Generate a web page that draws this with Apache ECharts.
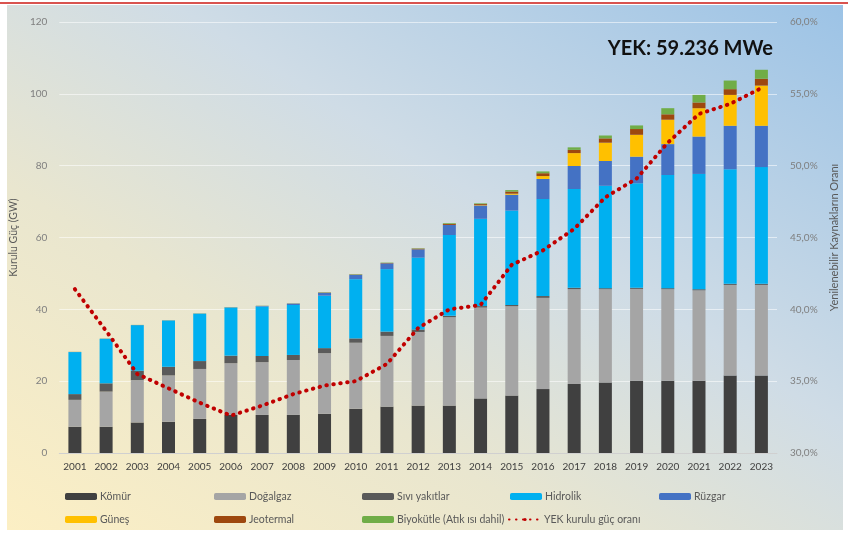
<!DOCTYPE html>
<html>
<head>
<meta charset="utf-8">
<script src="https://cdn.jsdelivr.net/npm/echarts@6/dist/echarts.min.js"></script>
<style>
  html, body { margin: 0; padding: 0; background: #fff; }
  #wrap { position: relative; width: 848px; height: 534px; overflow: hidden; }
  #redline { position: absolute; left: 0; top: 2px; width: 848px; height: 2px; background: #d9534f; }
  #panel {
    position: absolute; left: 7px; top: 5px; width: 836px; height: 525px;
    background: linear-gradient(to top right, #fcefc4 0%, #e9e6cf 33%, #cfdce6 60%, #9cc3e6 100%);
  }
  #chart { position: absolute; left: 0; top: 0; width: 848px; height: 534px; }
</style>
</head>
<body>
<div id="wrap">
  <div id="redline"></div>
  <div id="panel"></div>
  <div id="chart"></div>
</div>
<script>
// veriler
const years = ["2001","2002","2003","2004","2005","2006","2007","2008","2009","2010","2011","2012",
  "2013","2014","2015","2016","2017","2018","2019","2020","2021","2022","2023"];
const komur = [7.3,7.3,8.5,8.7,9.5,10.6,10.6,10.6,10.9,12.3,12.9,13.2,13.2,15.2,16.0,17.8,19.2,19.6,20.1,20.1,20.1,21.6,21.6];
const dogalgaz = [7.5,9.8,11.8,12.9,13.9,14.4,14.7,15.3,16.9,18.4,19.7,20.5,24.6,25.3,24.9,25.4,26.4,26.0,25.6,25.5,25.2,25.2,25.2];
const sivi = [1.6,2.3,2.6,2.4,2.2,2.1,1.7,1.4,1.4,1.2,1.2,0.7,0.4,0.4,0.3,0.5,0.4,0.3,0.3,0.3,0.3,0.3,0.3];
const hidrolik = [11.7,12.4,12.7,12.9,13.2,13.4,13.8,13.9,14.6,16.5,17.4,20.0,22.5,24.3,26.3,27.0,27.5,28.5,29.1,31.5,32.1,31.9,32.5];
const ruzgar = [0.02,0.02,0.02,0.02,0.02,0.06,0.15,0.4,0.8,1.2,1.6,2.3,2.8,3.7,4.4,5.6,6.4,6.9,7.4,8.6,10.4,12.1,11.5];
const gunes = [0,0,0,0,0,0,0,0,0,0,0,0,0,0.1,0.3,0.8,3.6,5.1,6.1,6.8,7.9,8.6,11.2];
const jeotermal = [0.02,0.02,0.02,0.02,0.02,0.02,0.02,0.03,0.08,0.09,0.11,0.2,0.3,0.3,0.6,0.8,0.9,1.2,1.6,1.5,1.6,1.6,1.9];
const biyokutle = [0.03,0.03,0.03,0.03,0.04,0.04,0.04,0.05,0.08,0.1,0.1,0.1,0.2,0.2,0.4,0.5,0.7,0.8,1.0,1.7,2.1,2.4,2.5];
const yekOrani = [41.4,38.5,35.5,34.5,33.5,32.6,33.3,34.1,34.7,35.0,36.2,38.7,40.0,40.3,43.1,44.1,45.6,47.8,49.1,51.6,53.6,54.3,55.4];

const leftTicks = { min: 0, max: 120, interval: 20 };
const rightTicks = { min: 30, max: 60, interval: 5 };

const font = "Lato, 'Open Sans', sans-serif";
const labelColor = "#595959";

const barSeries = [
  ["Kömür", komur, "#404040"],
  ["Doğalgaz", dogalgaz, "#a5a5a5"],
  ["Sıvı yakıtlar", sivi, "#5a5a5a"],
  ["Hidrolik", hidrolik, "#00b0f0"],
  ["Rüzgar", ruzgar, "#4472c4"],
  ["Güneş", gunes, "#ffc000"],
  ["Jeotermal", jeotermal, "#9e480e"],
  ["Biyokütle (Atık ısı dahil)", biyokutle, "#70ad47"]
];

// legend: one per item so columns line up
const legendPos = [
  [60, 486], [209, 486], [357, 486], [505, 486], [654, 486],
  [60, 509], [209, 509], [357, 509], [503, 509]
];
const legendNames = barSeries.map(s => s[0]).concat(["YEK kurulu güç oranı"]);
const legends = legendNames.map((name, i) => ({
  data: [name],
  left: legendPos[i][0],
  top: legendPos[i][1],
  itemWidth: 32,
  itemHeight: i < 8 ? 7 : 4,
  itemGap: 4,
  textStyle: { color: labelColor, fontSize: 10.5, fontFamily: font, padding: [0, 0, 0, -2] },
  selectedMode: false
}));

const chart = echarts.init(document.getElementById("chart"));
chart.setOption({
  backgroundColor: "transparent",
  animation: false,
  textStyle: { fontFamily: font },
  title: {
    text: "YEK: 59.236 MWe",
    right: 70,
    top: 34,
    textStyle: { fontSize: 20, fontWeight: "bold", color: "#111", fontFamily: font }
  },
  legend: legends,
  grid: { left: 57, right: 64, top: 22, bottom: 81 },
  xAxis: {
    type: "category",
    data: years,
    axisLine: { lineStyle: { color: "#d0d0d0" } },
    axisTick: { show: false },
    axisLabel: { color: "#404040", fontSize: 10, margin: 9, interval: 0, fontFamily: font }
  },
  yAxis: [
    {
      type: "value",
      min: leftTicks.min, max: leftTicks.max, interval: leftTicks.interval,
      name: "Kurulu Güç (GW)",
      nameLocation: "middle",
      nameGap: 39,
      nameRotate: 90,
      nameTextStyle: { color: labelColor, fontSize: 10.5, fontFamily: font },
      axisLabel: { color: "#7f7f7f", fontSize: 10, margin: 12, fontFamily: font },
      axisLine: { show: false },
      axisTick: { show: false },
      splitLine: { lineStyle: { color: "rgba(255,255,255,0.55)", width: 1 } }
    },
    {
      type: "value",
      position: "right",
      min: rightTicks.min, max: rightTicks.max, interval: rightTicks.interval,
      name: "Yenilenebilir Kaynakların Oranı",
      nameLocation: "middle",
      nameGap: 52,
      nameRotate: 90,
      nameTextStyle: { color: labelColor, fontSize: 11, fontFamily: font },
      axisLabel: {
        color: "#7f7f7f", fontSize: 10, margin: 13, fontFamily: font,
        formatter: v => v.toFixed(1).replace(".", ",") + "%"
      },
      axisLine: { show: false },
      axisTick: { show: false },
      splitLine: { show: false }
    }
  ],
  series: barSeries.map(([name, data, color]) => ({
    name,
    type: "bar",
    stack: "kurulu",
    barWidth: 13,
    data,
    itemStyle: { color }
  })).concat([{
    name: "YEK kurulu güç oranı",
    type: "line",
    yAxisIndex: 1,
    data: yekOrani,
    symbol: "none",
    z: 5,
    itemStyle: { color: "#c00000" },
    lineStyle: { color: "#c00000", width: 4, type: [0.5, 6.5], cap: "round" }
  }])
});
</script>
</body>
</html>
